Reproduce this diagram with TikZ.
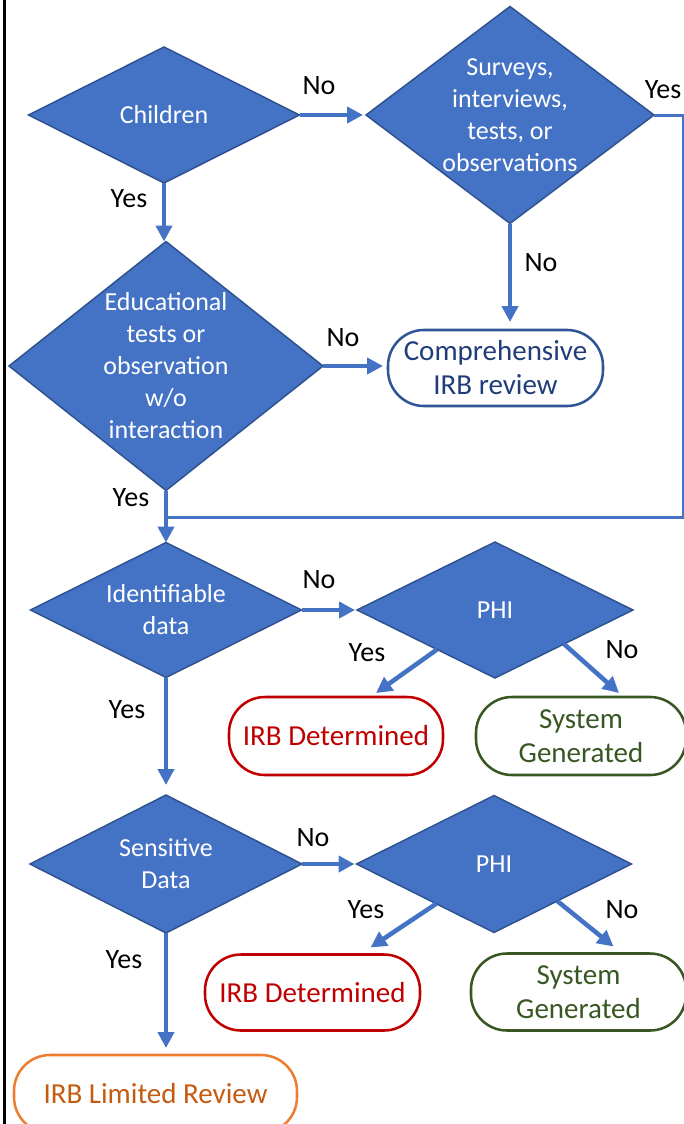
\documentclass[tikz,border=0pt]{standalone}
\usepackage{fontspec}
\setmainfont{Carlito}
\usetikzlibrary{shapes.geometric,arrows.meta,calc}
\newdimen\PX \PX=0.75pt
\definecolor{dfill}{HTML}{4472C4}
\definecolor{dborder}{HTML}{2F528F}
\definecolor{navyb}{HTML}{2F5597}
\definecolor{navyt}{HTML}{203D7A}
\definecolor{redb}{HTML}{C00000}
\definecolor{greenb}{HTML}{385723}
\definecolor{orangeb}{HTML}{ED7D31}
\definecolor{oranget}{HTML}{C55A11}
\begin{document}
\begin{tikzpicture}[x=0.75pt,y=-0.75pt,
  dia/.style={diamond, draw=dborder, fill=dfill, line width=1.1pt, inner sep=0pt, outer sep=0pt},
  dtext/.style={text=white, align=center, inner sep=0pt, font=\fontsize{19.5}{24}\selectfont},
  lbl/.style={font=\fontsize{21}{25}\selectfont, text=black, inner sep=0pt},
  term/.style={rectangle, rounded corners=36\PX, line width=1.9pt, fill=white, align=center,
    inner sep=0pt, outer sep=0pt, font=\fontsize{21.75}{25.5}\selectfont},
  arr/.style={draw=dfill, line width=3.4pt, -{Triangle[length=12pt,width=12pt]}},
  route/.style={draw=dfill, line width=2.25pt}]
\useasboundingbox (0,0) rectangle (684,1124);
\clip (0,0) rectangle (684,1124);
\fill[white] (0,0) rectangle (684,1124);
% left frame line
\draw[line width=3\PX] (4.5,-5) -- (4.5,1130);

% decisions
\node[dia, minimum width=271\PX, minimum height=136\PX, label={[dtext]center:{Children}}] (children) at (164,115) {};
\node[dia, minimum width=288\PX, minimum height=217\PX, label={[dtext]center:{Surveys,\\interviews,\\tests, or\\observations}}] (surveys) at (510,115) {};
\node[dia, minimum width=314\PX, minimum height=249\PX, label={[dtext]center:{Educational\\tests or\\observation\\w/o\\interaction}}] (edu) at (166,366) {};
\node[dia, minimum width=271\PX, minimum height=135\PX, label={[dtext]center:{Identifiable\\data}}] (ident) at (166,610) {};
\node[dia, minimum width=276\PX, minimum height=136\PX, label={[dtext]center:{PHI}}] (phi1) at (495,610) {};
\node[dia, minimum width=272\PX, minimum height=138\PX, label={[dtext]center:{Sensitive\\Data}}] (sens) at (166,864) {};
\node[dia, minimum width=275\PX, minimum height=137\PX, label={[dtext]center:{PHI}}] (phi2) at (494,864) {};

% terminals
\node[term, draw=navyb, text=navyt, minimum width=215\PX, minimum height=76\PX] (comp) at (495.5,368) {Comprehensive\\IRB review};
\node[term, draw=redb, text=redb, minimum width=214\PX, minimum height=78\PX] (irb1) at (336,736) {IRB Determined};
\node[term, draw=greenb, text=greenb, minimum width=210\PX, minimum height=78\PX] (sys1) at (581,736) {System\\Generated};
\node[term, draw=redb, text=redb, minimum width=215\PX, minimum height=76\PX] (irb2) at (312.5,992.5) {IRB Determined};
\node[term, draw=greenb, text=greenb, minimum width=215\PX, minimum height=77\PX] (sys2) at (578.5,992) {System\\Generated};
\node[term, draw=orangeb, text=oranget, minimum width=283\PX, minimum height=78\PX] (lim) at (155.5,1094) {IRB Limited Review};

% connectors
\draw[arr, shorten >=3\PX] (children.east) -- (surveys.west);
\draw[arr] (children.south) -- (children.south |- edu.north);
\draw[arr, shorten >=8\PX] (surveys.south) -- (surveys.south |- comp.north);
\draw[arr, shorten >=5\PX] (edu.east) -- (edu.east -| comp.west);
\coordinate (jy) at (0,517);
\coordinate (join) at (edu.south |- jy);
\coordinate (rc) at (683,517);
\draw[route] (surveys.east) -| (rc) -- (join);
\draw[arr] (edu.south) -- (edu.south |- ident.north);
\draw[arr, shorten >=2\PX] (ident.east) -- (phi1.west);
\draw[arr] ($(phi1.west)!0.58!(phi1.south)$) -- ([xshift=40\PX,yshift=4\PX]irb1.north);
\draw[arr] ($(phi1.south)!0.5!(phi1.east)$) -- ([xshift=38\PX,yshift=4\PX]sys1.north);
\draw[arr, shorten >=10\PX] (ident.south) -- (ident.south |- sens.north);
\draw[arr, shorten >=2\PX] (sens.east) -- (phi2.west);
\draw[arr] ($(phi2.west)!0.58!(phi2.south)$) -- ([xshift=58\PX,yshift=7\PX]irb2.north);
\draw[arr] ($(phi2.south)!0.46!(phi2.east)$) -- ([xshift=35\PX,yshift=7\PX]sys2.north);
\draw[arr, shorten >=7\PX] (sens.south) -- (sens.south |- lim.north);

% labels
\node[lbl] (l1) at (319,86) {No};
\node[lbl] (l2) at (663,90) {Yes};
\node[lbl] (l3) at (129,199) {Yes};
\node[lbl] (l4) at (541,263) {No};
\node[lbl] (l5) at (343,338) {No};
\node[lbl] (l6) at (131,498) {Yes};
\node[lbl] (l7) at (319,580) {No};
\node[lbl] (l8) at (367,653) {Yes};
\node[lbl] (l9) at (622,650) {No};
\node[lbl] (l10) at (127,710) {Yes};
\node[lbl] (l11) at (313,838) {No};
\node[lbl] (l12) at (366,910) {Yes};
\node[lbl] (l13) at (622,910) {No};
\node[lbl] (l14) at (124,960) {Yes};
\end{tikzpicture}
\end{document}
